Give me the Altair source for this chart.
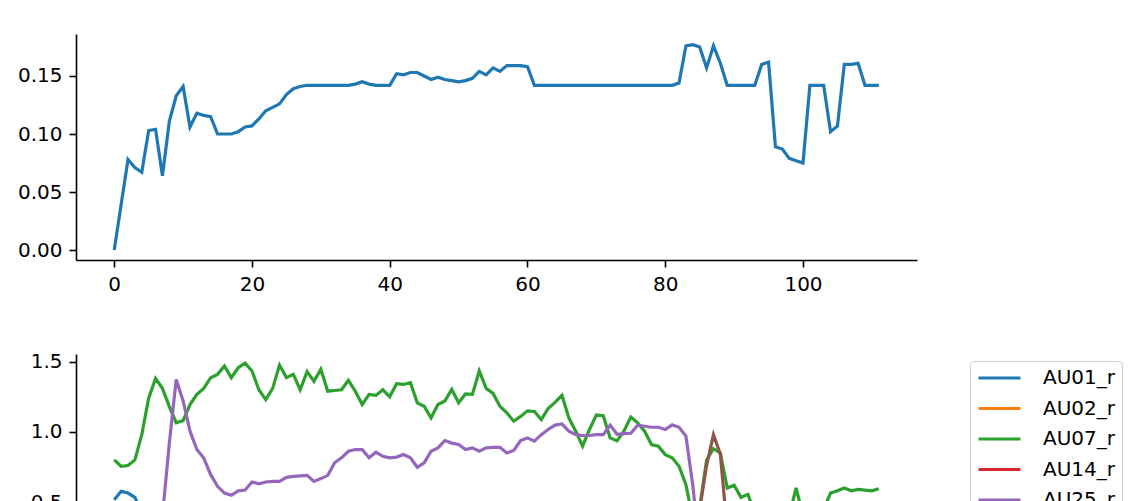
import altair as alt
import pandas as pd

frames = list(range(112))

# Top panel: single series
top_values = [
    0.000, 0.039, 0.078, 0.071, 0.067, 0.103, 0.104, 0.064, 0.111, 0.133,   # 0-9
    0.141, 0.106, 0.118, 0.116, 0.115, 0.100, 0.100, 0.100, 0.102, 0.106,   # 10-19
    0.107, 0.113, 0.120, 0.123, 0.126, 0.134, 0.139, 0.141, 0.142, 0.142,   # 20-29
    0.142, 0.142, 0.142, 0.142, 0.142, 0.143, 0.145, 0.143, 0.142, 0.142,   # 30-39
    0.142, 0.152, 0.151, 0.153, 0.153, 0.150, 0.147, 0.149, 0.147, 0.146,   # 40-49
    0.145, 0.146, 0.148, 0.154, 0.151, 0.157, 0.154, 0.159, 0.159, 0.159,   # 50-59
    0.158, 0.142, 0.142, 0.142, 0.142, 0.142, 0.142, 0.142, 0.142, 0.142,   # 60-69
    0.142, 0.142, 0.142, 0.142, 0.142, 0.142, 0.142, 0.142, 0.142, 0.142,   # 70-79
    0.142, 0.142, 0.144, 0.176, 0.177, 0.175, 0.157, 0.176, 0.161, 0.142,   # 80-89
    0.142, 0.142, 0.142, 0.142, 0.160, 0.162, 0.089, 0.087, 0.079, 0.077,   # 90-99
    0.075, 0.142, 0.142, 0.142, 0.102, 0.107, 0.160, 0.160, 0.161, 0.142,   # 100-109
    0.142, 0.142,                                                           # 110-111
]

# Bottom panel series (values below ~0.5 are outside the visible crop and estimated low)
au01 = [
    0.516, 0.576, 0.564, 0.533, 0.42, 0.38, 0.35, 0.33, 0.32, 0.30,
    0.30, 0.29, 0.28, 0.28, 0.27, 0.27, 0.26, 0.26, 0.25, 0.25,
    0.25, 0.24, 0.24, 0.24, 0.23, 0.23, 0.23, 0.22, 0.22, 0.22,
    0.22, 0.21, 0.21, 0.21, 0.21, 0.20, 0.20, 0.20, 0.20, 0.20,
    0.20, 0.20, 0.20, 0.20, 0.20, 0.20, 0.20, 0.20, 0.20, 0.20,
    0.20, 0.20, 0.20, 0.20, 0.20, 0.20, 0.20, 0.20, 0.20, 0.20,
    0.20, 0.20, 0.20, 0.20, 0.20, 0.20, 0.20, 0.20, 0.20, 0.20,
    0.20, 0.20, 0.20, 0.20, 0.20, 0.20, 0.20, 0.20, 0.20, 0.20,
    0.20, 0.20, 0.20, 0.20, 0.15, 0.10, 0.10, 0.10, 0.10, 0.10,
    0.10, 0.10, 0.10, 0.10, 0.10, 0.10, 0.10, 0.10, 0.10, 0.10,
    0.10, 0.10, 0.10, 0.10, 0.10, 0.10, 0.10, 0.10, 0.10, 0.10,
    0.10, 0.10,
]
au07 = [
    0.800, 0.755, 0.760, 0.800, 0.980, 1.240, 1.380, 1.310, 1.180, 1.065,
    1.080, 1.195, 1.267, 1.310, 1.386, 1.410, 1.470, 1.386, 1.457, 1.490,
    1.434, 1.300, 1.230, 1.310, 1.476, 1.386, 1.410, 1.300, 1.430, 1.360,
    1.446, 1.290, 1.295, 1.300, 1.367, 1.290, 1.195, 1.267, 1.260, 1.300,
    1.250, 1.343, 1.338, 1.350, 1.207, 1.183, 1.100, 1.195, 1.220, 1.303,
    1.207, 1.270, 1.267, 1.434, 1.310, 1.274, 1.183, 1.136, 1.076, 1.110,
    1.150, 1.145, 1.088, 1.167, 1.210, 1.260, 1.100, 1.005, 0.898, 1.017,
    1.120, 1.115, 0.957, 0.936, 1.005, 1.105, 1.064, 1.005, 0.910, 0.898,
    0.838, 0.815, 0.755, 0.624, 0.380, 0.460, 0.800, 0.880, 0.850, 0.600,
    0.620, 0.533, 0.555, 0.420, 0.350, 0.300, 0.320, 0.350, 0.400, 0.600,
    0.400, 0.360, 0.380, 0.450, 0.564, 0.580, 0.600, 0.580, 0.590, 0.585,
    0.580, 0.595,
]
au25 = [
    0.300, 0.280, 0.260, 0.250, 0.240, 0.220, 0.250, 0.400, 0.920, 1.374,
    1.220, 1.005, 0.874, 0.814, 0.695, 0.612, 0.564, 0.548, 0.580, 0.585,
    0.643, 0.630, 0.643, 0.647, 0.647, 0.676, 0.683, 0.686, 0.690, 0.647,
    0.667, 0.690, 0.780, 0.815, 0.862, 0.874, 0.874, 0.815, 0.855, 0.826,
    0.815, 0.820, 0.838, 0.815, 0.748, 0.780, 0.862, 0.886, 0.938, 0.920,
    0.910, 0.874, 0.886, 0.862, 0.886, 0.890, 0.890, 0.850, 0.867, 0.938,
    0.957, 0.934, 0.980, 1.017, 1.048, 1.057, 1.005, 0.980, 0.974, 0.974,
    0.980, 0.980, 1.048, 0.983, 0.988, 0.990, 1.048, 1.040, 1.033, 1.033,
    1.017, 1.050, 1.033, 0.970, 0.620, 0.150, 0.120, 0.120, 0.120, 0.120,
    0.120, 0.120, 0.120, 0.120, 0.120, 0.120, 0.120, 0.120, 0.120, 0.120,
    0.120, 0.120, 0.120, 0.120, 0.120, 0.120, 0.120, 0.120, 0.120, 0.120,
    0.120, 0.120,
]
au26 = [
    0.10, 0.10, 0.10, 0.10, 0.10, 0.10, 0.10, 0.10, 0.10, 0.10,
    0.10, 0.10, 0.10, 0.10, 0.10, 0.10, 0.10, 0.10, 0.10, 0.10,
    0.10, 0.10, 0.10, 0.10, 0.10, 0.10, 0.10, 0.10, 0.10, 0.10,
    0.10, 0.10, 0.10, 0.10, 0.10, 0.10, 0.10, 0.10, 0.10, 0.10,
    0.10, 0.10, 0.10, 0.10, 0.10, 0.10, 0.10, 0.10, 0.10, 0.10,
    0.10, 0.10, 0.10, 0.10, 0.10, 0.10, 0.10, 0.10, 0.10, 0.10,
    0.10, 0.10, 0.10, 0.10, 0.10, 0.10, 0.10, 0.10, 0.10, 0.10,
    0.10, 0.10, 0.10, 0.10, 0.10, 0.10, 0.10, 0.10, 0.10, 0.10,
    0.10, 0.10, 0.10, 0.10, 0.20, 0.45, 0.76, 0.98, 0.84, 0.30,
    0.10, 0.10, 0.10, 0.10, 0.10, 0.10, 0.10, 0.10, 0.10, 0.10,
    0.10, 0.10, 0.10, 0.10, 0.10, 0.10, 0.10, 0.10, 0.10, 0.10,
    0.10, 0.10,
]

series_names = ["AU01_r", "AU02_r", "AU07_r", "AU14_r", "AU25_r", "AU26_r"]
series_colors = ["#1f77b4", "#ff7f0e", "#2ca02c", "#d62728", "#9467bd", "#8c564b"]

df_top = pd.DataFrame({"frame": frames, "value": top_values})
rows = []
for name, vals in [("AU01_r", au01), ("AU07_r", au07), ("AU25_r", au25), ("AU26_r", au26)]:
    for f, v in zip(frames, vals):
        rows.append({"frame": f, "value": v, "AU": name})
df_bot = pd.DataFrame(rows)

FONT = "DejaVu Sans"
axis_common = dict(
    grid=False, title=None, domainColor="black", domainWidth=1.6,
    tickColor="black", tickWidth=1.6, tickSize=7, labelPadding=7,
    labelFontSize=20, labelFont=FONT, labelColor="black",
)
x_scale = alt.Scale(domain=[-5.55, 116.55], nice=False, zero=False)

top = alt.Chart(df_top).mark_line(strokeWidth=3.2, color="#1f77b4").encode(
    x=alt.X("frame:Q", scale=x_scale,
            axis=alt.Axis(values=[0, 20, 40, 60, 80, 100], **axis_common)),
    y=alt.Y("value:Q", scale=alt.Scale(domain=[-0.0086, 0.1862], nice=False, zero=False),
            axis=alt.Axis(values=[0, 0.05, 0.1, 0.15], format=".2f",
                          minExtent=58, maxExtent=58, **axis_common)),
).properties(width=841, height=226)

bottom = alt.Chart(df_bot).mark_line(strokeWidth=3.2).encode(
    x=alt.X("frame:Q", scale=x_scale,
            axis=alt.Axis(values=[0, 20, 40, 60, 80, 100], **axis_common)),
    y=alt.Y("value:Q", scale=alt.Scale(domain=[-0.07, 1.555], nice=False, zero=False),
            axis=alt.Axis(values=[0, 0.5, 1.0, 1.5], format=".1f",
                          minExtent=58, maxExtent=58, **axis_common)),
    color=alt.Color("AU:N", scale=alt.Scale(domain=series_names, range=series_colors),
                    legend=alt.Legend(orient="none", legendX=894, legendY=327, title=None,
                                      symbolType="stroke", symbolSize=42 * 42,
                                      symbolStrokeWidth=3, clipHeight=20, rowPadding=10.5,
                                      labelFontSize=20, labelFont=FONT, labelColor="black",
                                      labelOffset=21, padding=7, strokeColor="#cccccc",
                                      cornerRadius=4, fillColor="white")),
    detail="AU:N",
).properties(width=841, height=228)

chart = alt.vconcat(top, bottom, spacing=57).properties(
    padding={"left": 9, "top": 26, "right": 5, "bottom": 5}
).configure(background="white").configure_view(strokeWidth=0, stroke="transparent")

chart.save("out.html", embed_options={"renderer": "svg", "actions": False})
